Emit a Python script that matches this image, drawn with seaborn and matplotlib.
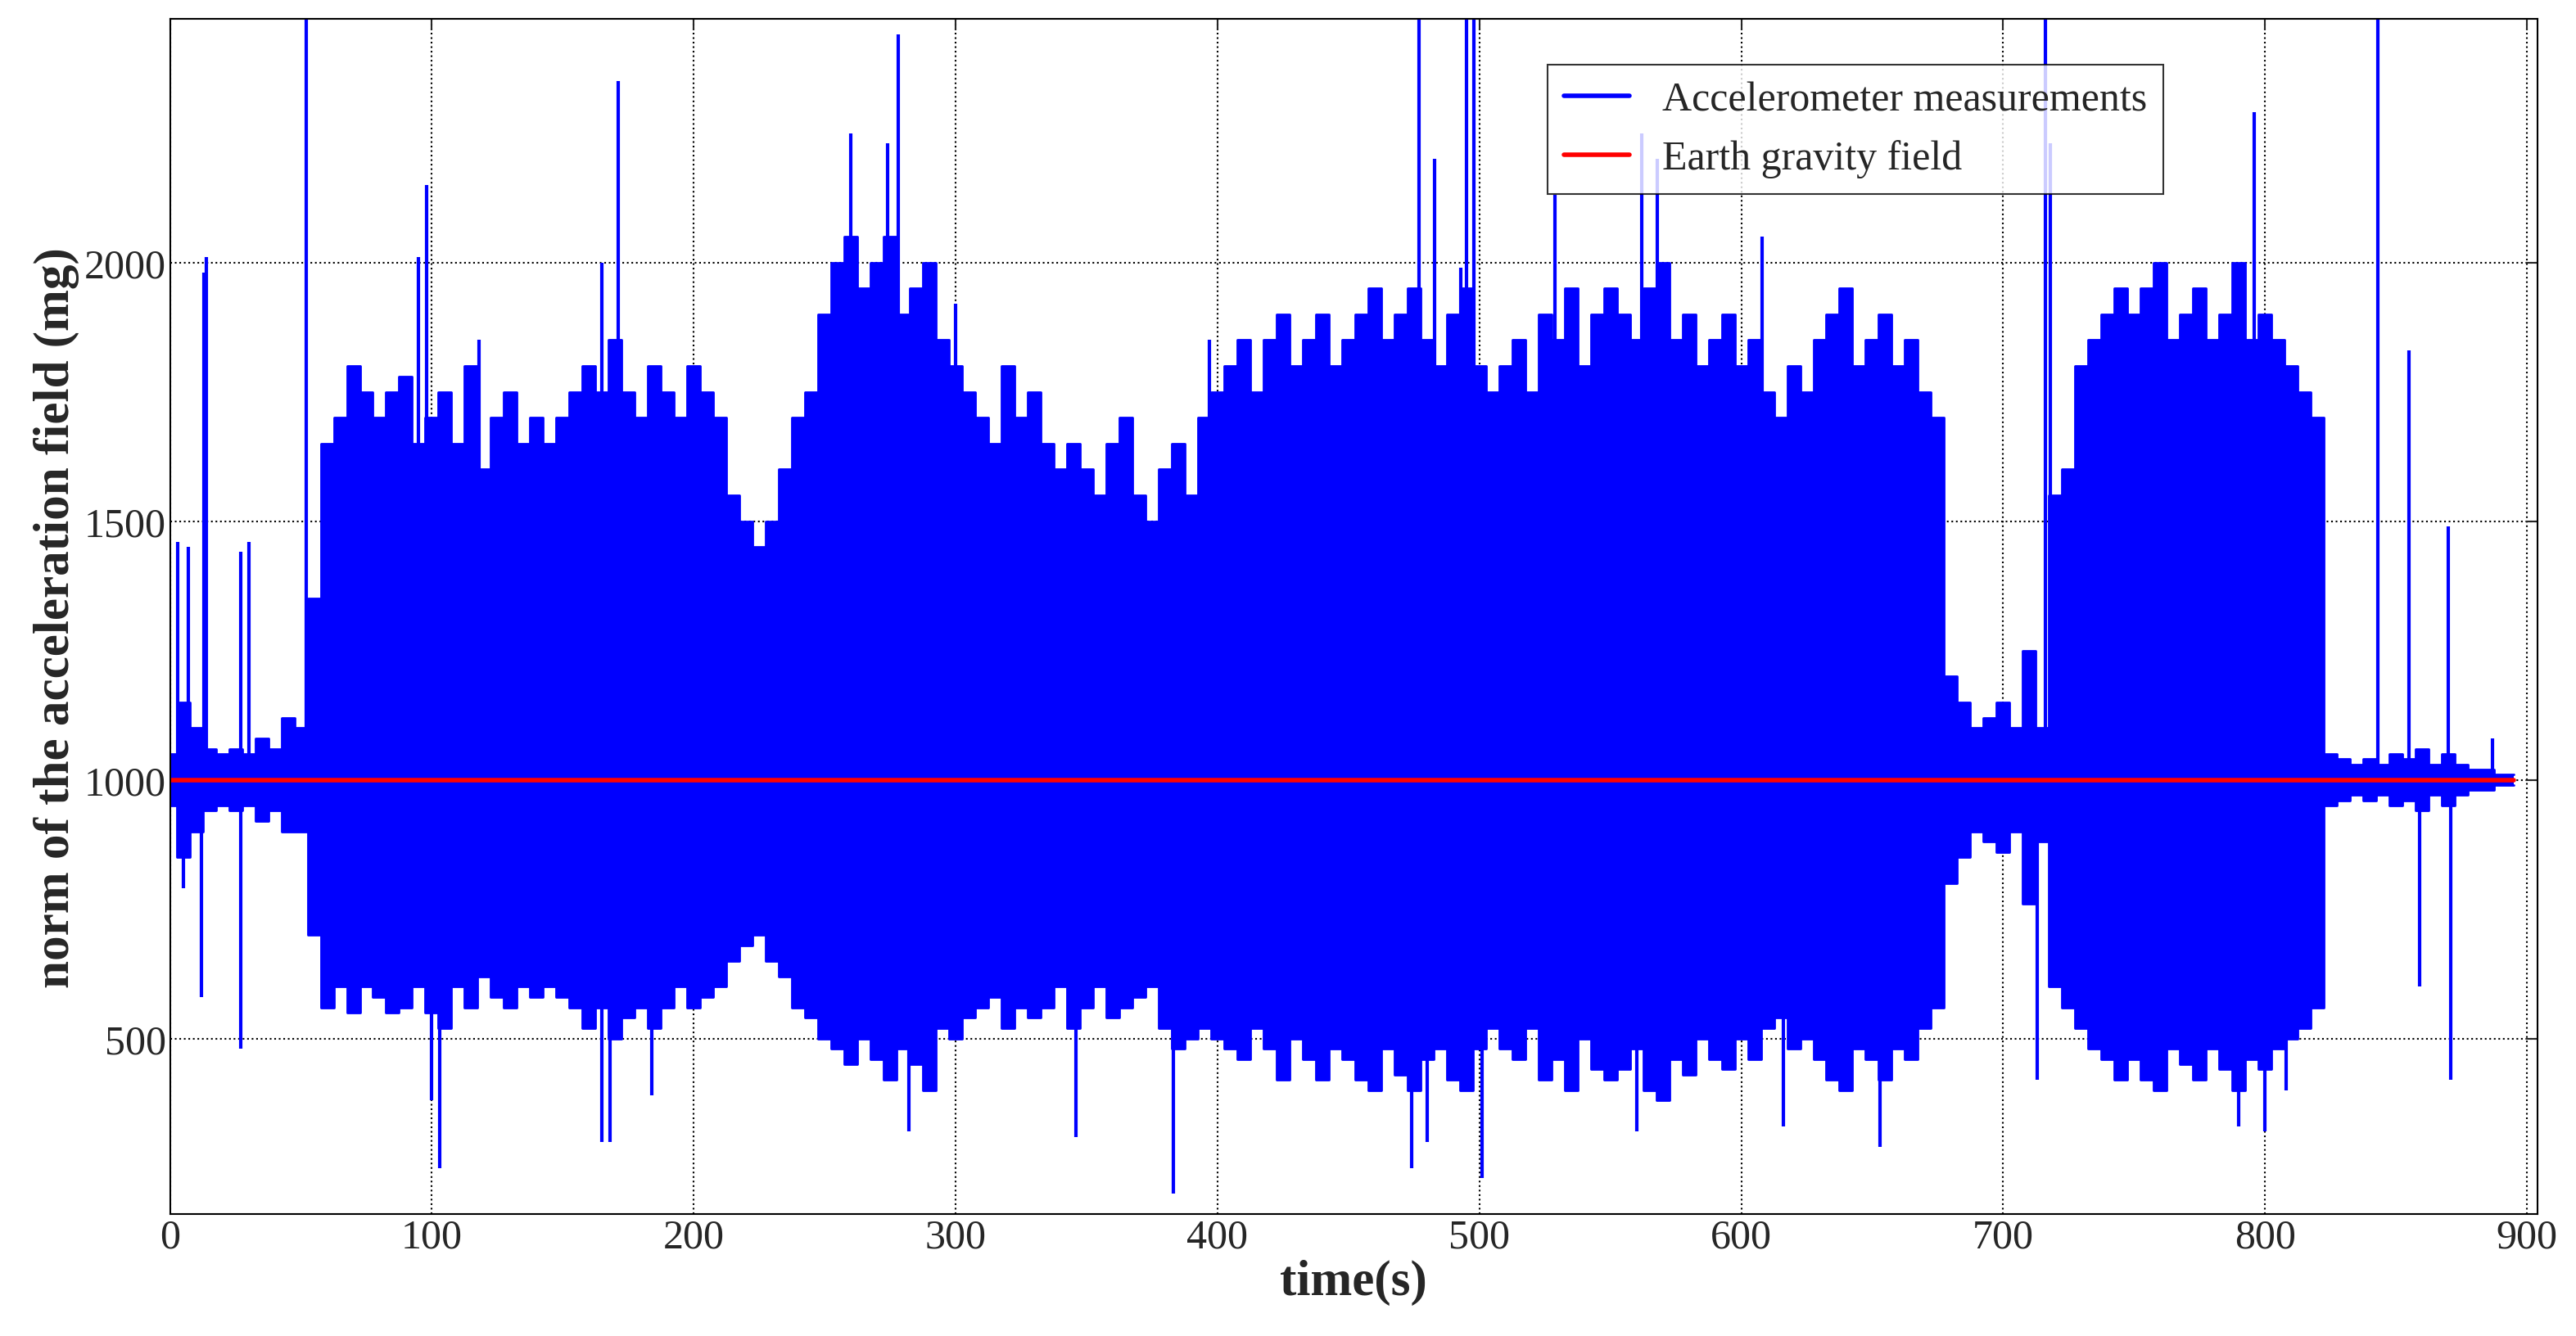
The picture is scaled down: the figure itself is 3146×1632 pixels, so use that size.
import matplotlib
matplotlib.use("Agg")
import matplotlib.pyplot as plt
import seaborn as sns
import numpy as np
import pandas as pd

# envelope samples every 5 s (upper and lower of the dense signal)
t_env = list(range(0, 900, 5))
upper = [1050,1150,1100,1060,1050,1060,1050,1080,1060,1120,
         1100,1350,1650,1700,1800,1750,1700,1750,1780,1650,
         1700,1750,1650,1800,1600,1700,1750,1650,1700,1650,
         1700,1750,1800,1750,1850,1750,1700,1800,1750,1700,
         1800,1750,1700,1550,1500,1450,1500,1600,1700,1750,
         1900,2000,2050,1950,2000,2050,1900,1950,2000,1850,
         1800,1750,1700,1650,1800,1700,1750,1650,1600,1650,
         1600,1550,1650,1700,1550,1500,1600,1650,1550,1700,
         1750,1800,1850,1750,1850,1900,1800,1850,1900,1800,
         1850,1900,1950,1850,1900,1950,1850,1800,1900,1950,
         1800,1750,1800,1850,1750,1900,1850,1950,1800,1900,
         1950,1900,1850,1950,2000,1850,1900,1800,1850,1900,
         1800,1850,1750,1700,1800,1750,1850,1900,1950,1800,
         1850,1900,1800,1850,1750,1700,1200,1150,1100,1120,
         1150,1100,1250,1100,1550,1600,1800,1850,1900,1950,
         1900,1950,2000,1850,1900,1950,1850,1900,2000,1850,
         1900,1850,1800,1750,1700,1050,1040,1030,1040,1030,
         1050,1040,1060,1030,1050,1030,1020,1020,1010,1010]
lower = [950,850,900,940,950,940,950,920,940,900,
         900,700,560,600,550,600,580,550,560,600,
         550,520,600,560,620,580,560,600,580,600,
         580,560,520,560,500,540,560,520,560,600,
         560,580,600,650,680,700,650,620,560,540,
         500,480,450,500,460,420,480,450,400,520,
         500,540,560,580,520,560,540,560,600,520,
         560,600,540,560,580,600,520,480,500,520,
         500,480,460,520,480,420,500,460,420,480,
         460,420,400,480,430,400,460,480,420,400,
         480,520,480,460,520,420,460,400,500,440,
         420,440,480,400,380,460,430,500,460,440,
         500,460,520,540,480,500,460,420,400,480,
         460,420,480,460,520,560,800,850,900,880,
         860,900,760,880,600,560,520,480,460,420,
         460,420,400,480,450,420,480,440,400,460,
         440,480,500,520,560,950,960,970,960,970,
         950,960,940,970,950,970,980,980,990,990]

# isolated peaks (time s, value mg)
spike_t = [3,7,13,14,27,30,52,95,98,118,165,171,260,274,278,300,397,477,483,493,495,498,529,562,568,608,716,718,796,843,855,870,887,
           5,12,27,100,103,165,168,184,282,346,383,474,480,501,560,616,653,713,790,800,808,859,871]
spike_v = [1460,1450,1980,2010,1440,1460,2470,2010,2150,1850,2000,2350,2250,2230,2440,1920,1850,2470,2200,1990,2470,2470,2130,2250,2200,2050,2470,2230,2290,2470,1830,1490,1080,
           790,580,480,380,250,300,300,390,320,310,200,250,300,230,320,330,290,420,330,320,400,600,420]

gravity_t = [0, 895]
gravity_v = [1000, 1000]

sns.set_theme(style="white")
plt.rcParams['font.family'] = ['Liberation Serif', 'DejaVu Serif']

fig, ax = plt.subplots(figsize=(31.46, 16.33), dpi=100)
fig.subplots_adjust(left=0.066, right=0.985, top=0.985, bottom=0.091)

blue = "#0000ff"
ax.fill_between(t_env, lower, upper, step="mid", color=blue, linewidth=0)
ax.vlines(spike_t, 1000, spike_v, color=blue, linewidth=3)
sns.lineplot(x=t_env, y=upper, drawstyle="steps-mid", color=blue, linewidth=2, ax=ax, label="Accelerometer measurements")
ax.plot(t_env, lower, drawstyle="steps-mid", color=blue, linewidth=2)
sns.lineplot(x=gravity_t, y=gravity_v, color="#ff0000", linewidth=4, ax=ax, label="Earth gravity field")

ax.set_xlim(0, 904)
ax.set_ylim(160, 2470)
ax.set_xticks(range(0, 901, 100))
ax.set_yticks([500, 1000, 1500, 2000])
ax.grid(True, color="black", linestyle=":", linewidth=1.5)
ax.tick_params(direction="in", length=10, width=1.5, labelsize=36, top=True, right=True)
for s in ax.spines.values():
    s.set_color("black"); s.set_linewidth(1.5)
ax.set_xlabel("time(s)", fontsize=44, labelpad=2, fontweight="bold")
ax.set_ylabel("norm of the acceleration field (mg)", fontsize=44, fontweight="bold", labelpad=4)
leg = ax.legend(loc="upper left", bbox_to_anchor=(0.582, 0.962), fontsize=36, frameon=True,
                fancybox=False, edgecolor="black", handlelength=1.6, borderaxespad=0)
leg.get_frame().set_linewidth(1.5)
for line in leg.get_lines():
    line.set_linewidth(4)
fig.savefig("out.png", dpi=100)
